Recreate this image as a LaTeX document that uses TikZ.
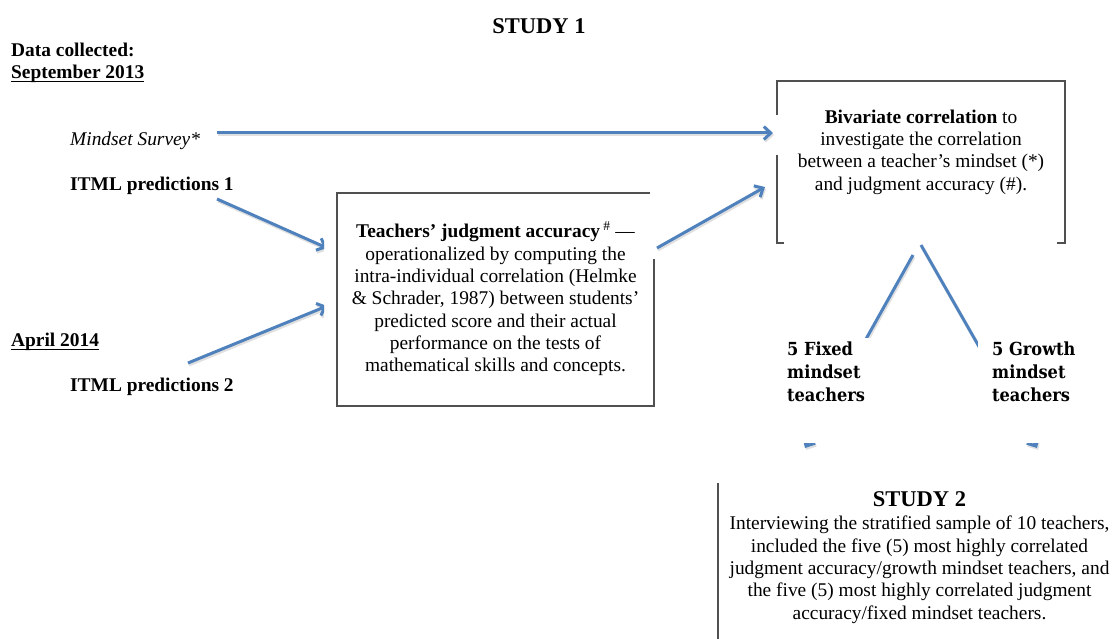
\documentclass[tikz,border=0pt]{standalone}
\usepackage{fontspec}
\setmainfont{Liberation Serif}
\newfontfamily\groupfont{DejaVu Serif Condensed}
\usetikzlibrary{arrows.meta}
\definecolor{flowblue}{HTML}{4F81BD}
\definecolor{boxgray}{HTML}{505050}
\newcommand\bodysize{\fontsize{19.4}{22.3}\selectfont}

\begin{document}
\begin{tikzpicture}[x=1pt,y=-1pt,
  every node/.style={inner sep=0pt, font=\bodysize},
  head/.style={font=\fontsize{22.5}{26}\selectfont\bfseries, anchor=base},
  lbl/.style={anchor=base west},
  bold/.style={font=\bodysize\bfseries},
  % multi-line texts are placed by the baseline of their last line
  para/.style={anchor=base, align=center},
  flow/.style={draw=flowblue, line width=3pt,
    preaction={draw=black!12, line width=3pt, transform canvas={xshift=1pt, yshift=-2pt}}},
  flowarrow/.style={flow, -{Straight Barb[length=7pt,width=13pt]}},
  frame/.style={draw=boxgray, line width=1.2pt},
  cover/.style={fill=white, draw=none, anchor=north west},
  group/.style={font=\groupfont\bfseries\fontsize{18}{23.3}\selectfont, align=left, anchor=base west},
]
\useasboundingbox (0,0) rectangle (1113,639);

% ---- left column: dates and data sources
\node[lbl, bold] (datacol) at (11,57) {Data collected:};
\node[lbl, bold] (sept) at (11,79) {September 2013};
\draw[line width=1.2pt] ([yshift=-2.5pt]sept.base west) -- ([yshift=-2.5pt]sept.base east);
\node[lbl, font=\bodysize\itshape] (survey) at (70,145.7) {Mindset Survey*};
\node[lbl, bold] (itml1) at (70,190) {ITML predictions 1};
\node[lbl, bold] (april) at (11,346.7) {April 2014};
\draw[line width=1.2pt] ([yshift=-2.5pt]april.base west) -- ([yshift=-2.5pt]april.base east);
\node[lbl, bold] (itml2) at (70,391.7) {ITML predictions 2};

\node[head] (study1) at (539,34) {STUDY 1};

% ---- analysis boxes
\node[para] (judge) at (495.5,371.7) {\textbf{Teachers' judgment accuracy}\,\textsuperscript{\#}\ ---\\
  operationalized by computing the\\
  intra-individual correlation (Helmke\\
  \& Schrader, 1987) between students'\\
  predicted score and their actual\\
  performance on the tests of\\
  mathematical skills and concepts.};
\draw[frame] (650,193) -- (337,193) -- (337,406) -- (654,406) -- (654,259);

\node[para] (bivar) at (921,190) {\textbf{Bivariate correlation} to\\
  investigate the correlation\\
  between a teacher's mindset (*)\\
  and judgment accuracy (\#).};
\draw[frame] (777,115) -- (777,81) -- (1065,81) -- (1065,243) -- (1057,243);
\draw[frame] (777,155) -- (777,243) -- (784,243);

% ---- connector end points
\coordinate (surveyout) at (217,133);
\coordinate (bivarinA) at (773,133);
\coordinate (itmlAout) at (217,199);
\coordinate (judgeinA) at (327,248);
\coordinate (itmlBout) at (188,363);
\coordinate (judgeinB) at (327,306);
\coordinate (judgeout) at (657,248);
\coordinate (bivarinB) at (765,187);
\coordinate (bivaroutF) at (913,255);
\coordinate (fixedin) at (805,448);
\coordinate (bivaroutG) at (921,245);
\coordinate (growthin) at (1037,448);

\draw[flowarrow] (surveyout) -- (bivarinA);
\begin{scope}
  \clip (0,0) rectangle (324,639);
  \draw[flowarrow] (itmlAout) -- (judgeinA);
  \draw[flowarrow] (itmlBout) -- (judgeinB);
\end{scope}
\draw[flowarrow] (judgeout) -- (bivarinB);
\draw[flowarrow] (bivaroutF) -- (fixedin);
\draw[flowarrow] (bivaroutG) -- (growthin);

% ---- the two teacher groups (white panels over the split arrows)
\node[cover, minimum width=105pt, minimum height=105pt] (fixedbg) at (780,338) {};
\node[group] (fixed) at (787,401.7) {5 Fixed\\mindset\\teachers};
\node[cover, minimum width=115pt, minimum height=113pt] (growthbg) at (978,330) {};
\node[group] (growth) at (992,401.7) {5 Growth\\mindset\\teachers};

% ---- study 2
\node[head] (study2) at (919.5,506.7) {STUDY 2};
\node[para] (study2txt) at (919.5,619) {Interviewing the stratified sample of 10 teachers,\\
  included the five (5) most highly correlated\\
  judgment accuracy/growth mindset teachers, and\\
  the five (5) most highly correlated judgment\\
  accuracy/fixed mindset teachers.};
\draw[frame] (718,483) -- (718,639);
\end{tikzpicture}
\end{document}
